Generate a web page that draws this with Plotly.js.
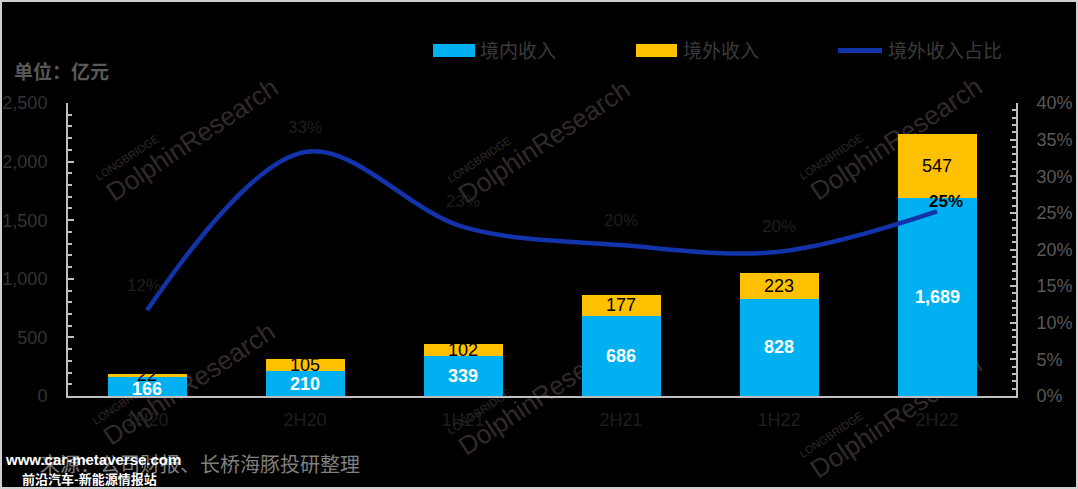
<!DOCTYPE html>
<html>
<head>
<meta charset="utf-8">
<script src="https://cdn.plot.ly/plotly-3.0.1.min.js"></script>
<style>
  html, body { margin: 0; padding: 0; background: #000; }
  #wrap { position: relative; width: 1078px; height: 489px; overflow: hidden; }
  #chart { position: absolute; left: 0; top: 0; width: 1078px; height: 489px; }
  #frame { position: absolute; left: 0; top: 0; width: 1074px; height: 485px; border: 2px solid #d0d0d0; pointer-events: none; }
</style>
</head>
<body>
<div id="wrap">
  <div id="chart"></div>
  <div id="frame"></div>
</div>
<script>
// ---- data ----
const categories = ['1H20', '2H20', '1H21', '2H21', '1H22', '2H22'];
const domesticRevenue = [166, 210, 339, 686, 828, 1689];   // 境内收入
const overseasRevenue = [22, 105, 102, 177, 223, 547];     // 境外收入
const overseasShare = [0.117, 0.333, 0.231, 0.206, 0.197, 0.252]; // 境外收入占比
const shareLabels = ['12%', '33%', '23%', '20%', '20%', '25%'];
const seriesNames = ['境内收入', '境外收入', '境外收入占比'];
const unitLabel = '单位：亿元';
const sourceLabel = '来源：公司财报、长桥海豚投研整理';

const BLUE = '#00B0F0', YELLOW = '#FFC000', LINE = '#1233AA';
const NUMFONT = '"Liberation Sans Narrow", "Liberation Sans", Arial, sans-serif';
const CJK = '"Noto Sans CJK SC", "Noto Sans", sans-serif';
const fmt = v => v.toLocaleString('en-US');

const traces = [
  { type: 'bar', x: categories, y: domesticRevenue, name: seriesNames[0],
    marker: { color: BLUE }, showlegend: false, hoverinfo: 'skip' },
  { type: 'bar', x: categories, y: overseasRevenue, name: seriesNames[1],
    marker: { color: YELLOW }, showlegend: false, hoverinfo: 'skip' },
  { type: 'scatter', mode: 'lines', x: categories, y: overseasShare, yaxis: 'y2',
    name: seriesNames[2], line: { color: LINE, width: 4.5, shape: 'spline', smoothing: 1 },
    showlegend: false, hoverinfo: 'skip' }
];

const L = 68, R = 1016, T = 103, B = 396;
const px2x = p => (p - L) / (R - L);
const py2y = p => (B - p) / (B - T);

const annotations = [];
categories.forEach((c, i) => {
  annotations.push({ x: c, y: domesticRevenue[i] / 2, xref: 'x', yref: 'y',
    text: '<b>' + fmt(domesticRevenue[i]) + '</b>', showarrow: false,
    font: { family: NUMFONT, size: 18, color: '#ffffff' }, yshift: i === 0 ? -3 : 0 });
  annotations.push({ x: c, y: domesticRevenue[i] + overseasRevenue[i] / 2, xref: 'x', yref: 'y',
    text: fmt(overseasRevenue[i]), showarrow: false,
    font: { family: NUMFONT, size: 18, color: '#000000' } });
  const last = i === categories.length - 1;
  annotations.push({ x: c, y: overseasShare[i], xref: 'x', yref: 'y2',
    text: last ? '<b>' + shareLabels[i] + '</b>' : shareLabels[i], showarrow: false,
    font: { family: NUMFONT, size: 17, color: last ? '#000000' : '#1e1e1e' },
    yshift: last ? 10 : 25, xshift: last ? 9 : (i === 0 ? -3 : 0) });
});

// unit + source text
annotations.push({ xref: 'paper', yref: 'paper', x: px2x(12), y: py2y(70), xanchor: 'left', yanchor: 'middle',
  text: '<b>' + unitLabel + '</b>', showarrow: false, font: { family: CJK, size: 19, color: '#595959' } });
annotations.push({ xref: 'paper', yref: 'paper', x: px2x(38), y: py2y(464), xanchor: 'left', yanchor: 'middle',
  text: sourceLabel, showarrow: false, font: { family: CJK, size: 20, color: '#7f7f7f' } });

// custom legend
const legendItems = [
  { x0: 433, x1: 475, color: BLUE, kind: 'rect', tx: 478, text: seriesNames[0] },
  { x0: 636, x1: 677, color: YELLOW, kind: 'rect', tx: 681, text: seriesNames[1] },
  { x0: 838, x1: 882, color: LINE, kind: 'line', tx: 886, text: seriesNames[2] }
];
const shapes = [];
legendItems.forEach(it => {
  if (it.kind === 'rect') {
    shapes.push({ type: 'rect', xref: 'paper', yref: 'paper', x0: px2x(it.x0), x1: px2x(it.x1),
      y0: py2y(57), y1: py2y(44), fillcolor: it.color, line: { width: 0 } });
  } else {
    shapes.push({ type: 'line', xref: 'paper', yref: 'paper', x0: px2x(it.x0), x1: px2x(it.x1),
      y0: py2y(50.5), y1: py2y(50.5), line: { color: it.color, width: 5 } });
  }
  annotations.push({ xref: 'paper', yref: 'paper', x: px2x(it.tx), y: py2y(50), xanchor: 'left', yanchor: 'middle',
    text: it.text, showarrow: false, font: { family: CJK, size: 19, color: '#3a3a3a' } });
});

// watermarks (drawn below the bars, as in the reference)
const marks = [[191, 138], [543, 140], [895, 137], [188, 382], [543, 392], [895, 415]];
const ang = 33.6 * Math.PI / 180, ca = Math.cos(ang), sa = Math.sin(ang);
function wmLine(cx, cy, len, text, size) {
  return { type: 'line', layer: 'below', xref: 'paper', yref: 'paper',
    x0: px2x(cx - ca * len / 2), y0: py2y(cy + sa * len / 2),
    x1: px2x(cx + ca * len / 2), y1: py2y(cy - sa * len / 2),
    line: { color: 'rgba(0,0,0,0)', width: 0 },
    label: { text: text, textangle: 'auto', textposition: 'middle', xanchor: 'center', yanchor: 'middle',
      font: { family: '"Liberation Sans", sans-serif', size: size, color: '#322a2a' } } };
}
marks.forEach(m => {
  shapes.push(wmLine(m[0], m[1], 200, 'DolphinResearch', 26));
  const lx = m[0] - 64 * ca - 20 * sa, ly = m[1] + 64 * sa - 20 * ca;
  shapes.push(wmLine(lx, ly, 80, 'LONGBRIDGE', 11));
});

// site watermark
annotations.push({ xref: 'paper', yref: 'paper', x: px2x(3), y: py2y(459), xanchor: 'left', yanchor: 'middle',
  text: '<b>www.car-metaverse.com</b>', showarrow: false, font: { family: NUMFONT, size: 15, color: '#ffffff' } });
annotations.push({ xref: 'paper', yref: 'paper', x: px2x(20), y: py2y(478), xanchor: 'left', yanchor: 'middle',
  text: '<b>前沿汽车-新能源情报站</b>', showarrow: false, font: { family: CJK, size: 13, color: '#ffffff' } });

const layout = {
  width: 1078, height: 489,
  margin: { l: L, r: 1078 - R, t: T, b: 489 - B, pad: 0 },
  paper_bgcolor: '#000000', plot_bgcolor: '#000000',
  barmode: 'stack', bargap: 0.5,
  showlegend: false,
  xaxis: {
    type: 'category', range: [-0.5, 5.5], showgrid: false, zeroline: false,
    showline: true, linecolor: '#bfbfbf', linewidth: 2, ticks: '',
    tickfont: { family: NUMFONT, size: 18, color: '#1e1e1e' }, ticklabelstandoff: 6,
    fixedrange: true
  },
  yaxis: {
    range: [0, 2500], dtick: 500, tickformat: ',', showgrid: false, zeroline: false,
    showline: true, linecolor: '#bfbfbf', linewidth: 2,
    ticks: 'inside', ticklen: 6, tickcolor: '#bfbfbf', tickwidth: 2,
    minor: { dtick: 100, ticks: 'inside', ticklen: 4, tickcolor: '#bfbfbf', tickwidth: 2 },
    tickfont: { family: NUMFONT, size: 18, color: '#333333' }, ticklabelstandoff: 15,
    fixedrange: true
  },
  yaxis2: {
    overlaying: 'y', side: 'right', range: [0, 0.4], dtick: 0.05, tickformat: '.0%',
    showgrid: false, zeroline: false, showline: true, linecolor: '#bfbfbf', linewidth: 2,
    ticks: 'inside', ticklen: 6, tickcolor: '#bfbfbf', tickwidth: 2,
    minor: { dtick: 0.01, ticks: 'inside', ticklen: 4, tickcolor: '#bfbfbf', tickwidth: 2 },
    tickfont: { family: NUMFONT, size: 18, color: '#595959' }, ticklabelstandoff: 15,
    fixedrange: true
  },
  annotations: annotations,
  shapes: shapes
};

Plotly.newPlot('chart', traces, layout, { displayModeBar: false, staticPlot: true });
</script>
</body>
</html>
